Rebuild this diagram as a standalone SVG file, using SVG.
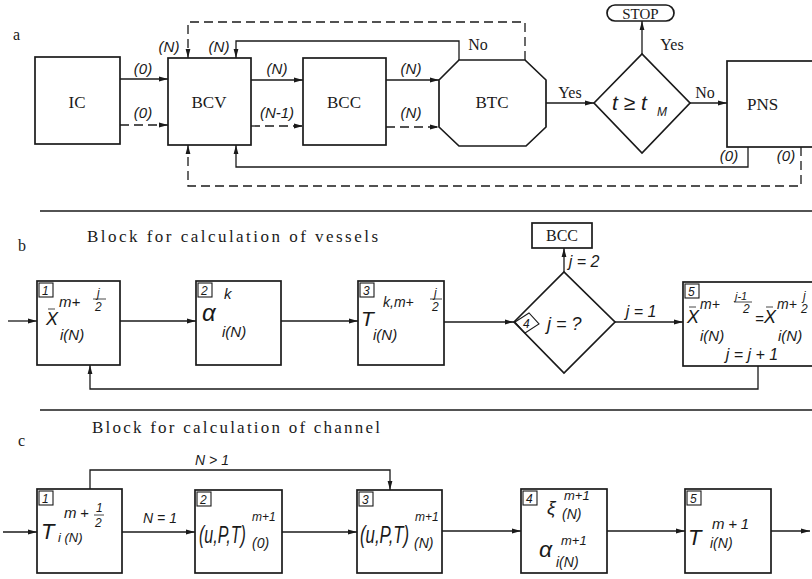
<svg xmlns="http://www.w3.org/2000/svg" width="812" height="579" viewBox="0 0 812 579">
<defs>
<marker id="ah" markerUnits="userSpaceOnUse" markerWidth="10" markerHeight="6" refX="9" refY="3" orient="auto">
<path d="M0,0.6 L9,3 L0,5.4 z" fill="#1a1a1a"/>
</marker>
</defs>
<style>
.bx{fill:none;stroke:#1a1a1a;stroke-width:1.7}
.ln{fill:none;stroke:#1a1a1a;stroke-width:1.3}
.ds{stroke-dasharray:9 5}
.sq{fill:none;stroke:#1a1a1a;stroke-width:1.1}
.fb{stroke:#1a1a1a;stroke-width:0.8}
.sf{font-family:"Liberation Serif",serif;fill:#1a1a1a}
.mt{font-family:"Liberation Sans",sans-serif;font-style:italic;fill:#1a1a1a}
.num{font-family:"Liberation Sans",sans-serif;font-style:italic;font-size:12px;fill:#1a1a1a}
</style>
<rect width="812" height="579" fill="#ffffff"/>

<!-- section labels and separators -->
<g id="headers">
<text class="sf" x="13" y="40" font-size="16">a</text>
<text class="sf" x="18" y="251" font-size="16">b</text>
<text class="sf" x="18" y="446" font-size="16">c</text>
<line class="ln" x1="40" y1="211" x2="812" y2="211"/>
<line class="ln" x1="40" y1="410" x2="812" y2="410"/>
<text class="sf" x="87" y="242" font-size="17" textLength="291" lengthAdjust="spacing">Block for calculation of vessels</text>
<text class="sf" x="92" y="433" font-size="17" textLength="288" lengthAdjust="spacing">Block for calculation of channel</text>
</g>

<!-- connectors -->
<g id="connectors">
<!-- section a -->
<path class="ln" d="M120,79 H168" marker-end="url(#ah)"/>
<path class="ln ds" d="M120,125 H168" marker-end="url(#ah)"/>
<path class="ln" d="M251,80 H303" marker-end="url(#ah)"/>
<path class="ln ds" d="M251,126 H303" marker-end="url(#ah)"/>
<path class="ln" d="M386,80 H439" marker-end="url(#ah)"/>
<path class="ln ds" d="M386,127 H439" marker-end="url(#ah)"/>
<path class="ln" d="M459,60 V41 H236 V58" marker-end="url(#ah)"/>
<path class="ln ds" d="M525,60 V22 H188 V58" marker-end="url(#ah)"/>
<path class="ln" d="M546,103 H594" marker-end="url(#ah)"/>
<path class="ln" d="M642,54 V21" marker-end="url(#ah)"/>
<path class="ln" d="M690,103 H727" marker-end="url(#ah)"/>
<path class="ln" d="M748,147 V167 H236 V145" marker-end="url(#ah)"/>
<path class="ln ds" d="M801,147 V186 H188 V145" marker-end="url(#ah)"/>
<!-- section b -->
<path class="ln" d="M8,321 H37" marker-end="url(#ah)"/>
<path class="ln" d="M120,321 H196" marker-end="url(#ah)"/>
<path class="ln" d="M281,321 H358" marker-end="url(#ah)"/>
<path class="ln" d="M444,322 H514" marker-end="url(#ah)"/>
<path class="ln" d="M615,322 H683" marker-end="url(#ah)"/>
<path class="ln" d="M564,272 V248" marker-end="url(#ah)"/>
<path class="ln" d="M758,366 V389 H90 V365" marker-end="url(#ah)"/>
<!-- section c -->
<path class="ln" d="M3,532 H37" marker-end="url(#ah)"/>
<path class="ln" d="M122,532 H195" marker-end="url(#ah)"/>
<path class="ln" d="M282,532 H357" marker-end="url(#ah)"/>
<path class="ln" d="M442,531 H521" marker-end="url(#ah)"/>
<path class="ln" d="M607,531 H685" marker-end="url(#ah)"/>
<path class="ln" d="M771,531 H810" marker-end="url(#ah)"/>
<path class="ln" d="M90,489 V470 H390 V490" marker-end="url(#ah)"/>
</g>

<!-- connector labels -->
<g id="connector-labels">
<text class="mt" x="143" y="74" font-size="15" text-anchor="middle">(0)</text>
<text class="mt" x="143" y="118" font-size="15" text-anchor="middle">(0)</text>
<text class="mt" x="277" y="74" font-size="15" text-anchor="middle">(N)</text>
<text class="mt" x="277" y="118" font-size="15" text-anchor="middle">(N-1)</text>
<text class="mt" x="411" y="74" font-size="15" text-anchor="middle">(N)</text>
<text class="mt" x="411" y="118" font-size="15" text-anchor="middle">(N)</text>
<text class="mt" x="169" y="52" font-size="15" text-anchor="middle">(N)</text>
<text class="mt" x="219" y="52" font-size="15" text-anchor="middle">(N)</text>
<text class="sf" x="478" y="50" font-size="16" text-anchor="middle">No</text>
<text class="sf" x="570" y="98" font-size="16" text-anchor="middle">Yes</text>
<text class="sf" x="672" y="50" font-size="16" text-anchor="middle">Yes</text>
<text class="sf" x="705" y="98" font-size="16" text-anchor="middle">No</text>
<text class="mt" x="729" y="161" font-size="15" text-anchor="middle">(0)</text>
<text class="mt" x="786" y="161" font-size="15" text-anchor="middle">(0)</text>
<text class="mt" x="584" y="267" font-size="16" text-anchor="middle">j = 2</text>
<text class="mt" x="641" y="317" font-size="16" text-anchor="middle">j = 1</text>
<text class="mt" x="160" y="523" font-size="14" text-anchor="middle">N = 1</text>
<text class="mt" x="212" y="465" font-size="14" text-anchor="middle">N &gt; 1</text>
</g>

<!-- section a nodes -->
<g id="IC">
<rect class="bx" x="35" y="57" width="85" height="87"/>
<text class="sf" x="77" y="108" font-size="17" text-anchor="middle">IC</text>
</g>
<g id="BCV">
<rect class="bx" x="168" y="58" width="83" height="87"/>
<text class="sf" x="209" y="108" font-size="17" text-anchor="middle">BCV</text>
</g>
<g id="BCC">
<rect class="bx" x="303" y="58" width="83" height="87"/>
<text class="sf" x="344" y="108" font-size="17" text-anchor="middle">BCC</text>
</g>
<g id="BTC">
<polygon class="bx" points="459,60 525,60 546,80 546,127 526,146 459,146 439,127 439,80"/>
<text class="sf" x="492" y="108" font-size="17" text-anchor="middle">BTC</text>
</g>
<g id="test-time">
<polygon class="bx" points="594,103 642,54 690,103 642,153"/>
<text class="mt" x="612" y="110" font-size="21">t ≥ t</text>
<text class="mt" x="657" y="116" font-size="12">M</text>
</g>
<g id="STOP">
<rect class="bx" x="607" y="5" width="67" height="16" rx="8"/>
<text class="sf" x="640.5" y="18.5" font-size="15" text-anchor="middle">STOP</text>
</g>
<g id="PNS">
<rect class="bx" x="727" y="61" width="95" height="86"/>
<text class="sf" x="747" y="110" font-size="17">PNS</text>
</g>

<!-- section b nodes -->
<g id="b1">
<rect class="bx" x="37" y="281" width="83" height="84"/>
<rect class="sq" x="39" y="283" width="14" height="14"/>
<text class="num" x="42" y="295">1</text>
<text class="mt" x="46" y="325" font-size="18">X</text>
<line class="fb" x1="48" y1="309" x2="55" y2="309"/>
<text class="mt" x="59" y="307" font-size="15">m+</text>
<text class="mt" x="97" y="297" font-size="12">j</text>
<line class="fb" x1="93" y1="299" x2="106" y2="299"/>
<text class="mt" x="95" y="311" font-size="12">2</text>
<text class="mt" x="60" y="340" font-size="15">i(N)</text>
</g>
<g id="b2">
<rect class="bx" x="196" y="281" width="85" height="84"/>
<rect class="sq" x="198" y="283" width="14" height="14"/>
<text class="num" x="201" y="295">2</text>
<text class="mt" x="202" y="321" font-size="24">α</text>
<text class="mt" x="224" y="299" font-size="15">k</text>
<text class="mt" x="222" y="337" font-size="15">i(N)</text>
</g>
<g id="b3">
<rect class="bx" x="358" y="281" width="86" height="84"/>
<rect class="sq" x="360" y="283" width="14" height="14"/>
<text class="num" x="363" y="295">3</text>
<text class="mt" x="361" y="326" font-size="21">T</text>
<text class="mt" x="383" y="307" font-size="14">k,m+</text>
<text class="mt" x="434" y="297" font-size="12">j</text>
<line class="fb" x1="430" y1="299" x2="442" y2="299"/>
<text class="mt" x="432" y="311" font-size="12">2</text>
<text class="mt" x="373" y="340" font-size="15">i(N)</text>
</g>
<g id="b4">
<polygon class="bx" points="514,322 564,272 615,322 564,373"/>
<polygon class="sq" points="515,322 529,313 539,324 525,333"/>
<text class="num" x="523" y="328">4</text>
<text class="mt" x="547" y="330" font-size="18">j = ?</text>
</g>
<g id="b-BCC">
<rect class="bx" x="532" y="223" width="60" height="25"/>
<text class="sf" x="562" y="241" font-size="16" text-anchor="middle">BCC</text>
</g>
<g id="b5">
<rect class="bx" x="683" y="282" width="140" height="84"/>
<rect class="sq" x="685" y="284" width="14" height="14"/>
<text class="num" x="688" y="296">5</text>
<text class="mt" x="687" y="323" font-size="18">X</text>
<line class="fb" x1="689" y1="307" x2="696" y2="307"/>
<text class="mt" x="700" y="309" font-size="14">m+</text>
<text class="mt" x="735" y="300" font-size="11">j-1</text>
<line class="fb" x1="734" y1="302" x2="752" y2="302"/>
<text class="mt" x="743" y="313" font-size="12">2</text>
<text class="mt" x="755" y="324" font-size="15">=</text>
<text class="mt" x="764" y="323" font-size="18">X</text>
<line class="fb" x1="766" y1="307" x2="773" y2="307"/>
<text class="mt" x="777" y="309" font-size="14">m+</text>
<text class="mt" x="803" y="300" font-size="12">j</text>
<text class="mt" x="801" y="313" font-size="12">2</text>
<text class="mt" x="700" y="341" font-size="15">i(N)</text>
<text class="mt" x="778" y="341" font-size="15">i(N)</text>
<text class="mt" x="752" y="360" font-size="16" text-anchor="middle">j = j + 1</text>
</g>

<!-- section c nodes -->
<g id="c1">
<rect class="bx" x="37" y="489" width="85" height="84"/>
<rect class="sq" x="39" y="491" width="14" height="14"/>
<text class="num" x="42" y="503">1</text>
<text class="mt" x="41" y="539" font-size="22">T</text>
<text class="mt" x="64" y="518" font-size="15">m</text>
<text class="mt" x="80" y="518" font-size="15">+</text>
<text class="mt" x="96" y="512" font-size="12">1</text>
<line class="fb" x1="94" y1="515" x2="104" y2="515"/>
<text class="mt" x="95" y="527" font-size="12">2</text>
<text class="mt" x="58" y="542" font-size="13">i (N)</text>
</g>
<g id="c2">
<rect class="bx" x="195" y="490" width="87" height="83"/>
<rect class="sq" x="197" y="492" width="14" height="14"/>
<text class="num" x="200" y="504">2</text>
<text class="mt" transform="translate(199,543) scale(1,1.45)" x="0" y="0" font-size="16">(u,P,T)</text>
<text class="mt" x="252" y="521" font-size="12">m+1</text>
<text class="mt" x="252" y="548" font-size="14">(0)</text>
</g>
<g id="c3">
<rect class="bx" x="357" y="490" width="85" height="83"/>
<rect class="sq" x="359" y="492" width="14" height="14"/>
<text class="num" x="362" y="504">3</text>
<text class="mt" transform="translate(360,543) scale(1.05,1.45)" x="0" y="0" font-size="16">(u,P,T)</text>
<text class="mt" x="415" y="521" font-size="12">m+1</text>
<text class="mt" x="414" y="548" font-size="14">(N)</text>
</g>
<g id="c4">
<rect class="bx" x="521" y="489" width="86" height="84"/>
<rect class="sq" x="523" y="491" width="14" height="14"/>
<text class="num" x="526" y="503">4</text>
<text class="mt" x="547" y="514" font-size="19">ξ</text>
<text class="mt" x="564" y="500" font-size="13">m+1</text>
<text class="mt" x="562" y="519" font-size="14">(N)</text>
<text class="mt" x="539" y="557" font-size="23">α</text>
<text class="mt" x="561" y="545" font-size="13">m+1</text>
<text class="mt" x="556" y="567" font-size="14">i(N)</text>
</g>
<g id="c5">
<rect class="bx" x="685" y="489" width="86" height="84"/>
<rect class="sq" x="687" y="491" width="14" height="14"/>
<text class="num" x="690" y="503">5</text>
<text class="mt" x="688" y="545" font-size="22">T</text>
<text class="mt" x="712" y="529" font-size="15" textLength="37" lengthAdjust="spacing">m+1</text>
<text class="mt" x="710" y="548" font-size="14">i(N)</text>
</g>
</svg>
